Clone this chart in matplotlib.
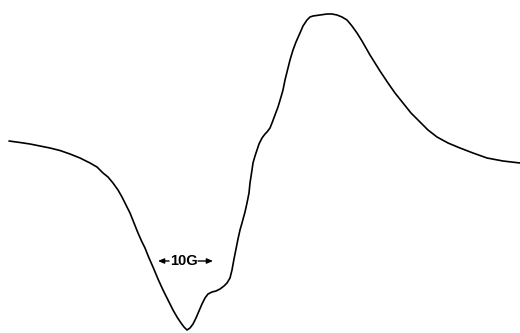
import matplotlib
matplotlib.use("Agg")
import matplotlib.pyplot as plt

# traced first-derivative EPR trace (field position, signal)
field = [9, 20, 30, 40, 50, 60, 70, 80, 90, 97, 103, 108, 113, 118, 122, 126,
         130, 134, 138, 142, 145, 149, 153, 158, 163, 168, 173, 177, 181, 184,
         187, 190, 193, 196, 199, 202, 205, 208, 212, 216, 220, 224, 227, 230,
         232, 234, 236, 238, 240, 242, 245, 247, 249, 250, 252, 253, 255, 257,
         259, 262, 265, 267, 270, 272, 275, 278, 281, 283, 285, 288, 290, 293,
         296, 300, 303, 307, 310, 313, 320, 327, 332, 337, 342, 347, 352, 357,
         362, 366, 370, 375, 380, 388, 395, 403, 411, 420, 428, 437, 448, 460,
         473, 487, 503, 520]
signal = [141, 142.5, 144, 146, 148, 150.5, 154, 158, 163, 167, 173, 177, 183,
          190, 197, 205, 213, 223, 233, 242, 248, 258, 267, 279, 290, 300, 310,
          317, 323, 327, 330, 328, 324, 318, 311, 304, 298, 294, 292, 291, 289,
          286, 283, 278, 270, 259, 249, 239, 230, 223, 212, 203, 193, 183, 170,
          163, 156, 150, 144, 138, 134, 132, 128, 123, 115, 107, 97, 90, 80, 68,
          60, 50, 42, 33, 26, 20, 17, 16, 15, 14, 14, 15, 17, 20, 26, 33, 41, 48,
          55, 63, 71, 83, 93, 103, 113, 122, 130, 137, 143, 148, 153, 158, 161,
          163]

# 10 G scale marker
scale_y = 261
scale_left, scale_right = 158, 213

fig = plt.figure(figsize=(5.2, 3.33), dpi=100)
ax = fig.add_axes([0, 0, 1, 1])
ax.plot(field, signal, color="black", lw=1.2, solid_capstyle="round",
        solid_joinstyle="round")
ax.text(183.5, scale_y, "10G", fontsize=10.5, fontweight="bold",
        ha="center", va="center", family=["Liberation Sans", "DejaVu Sans"])
for x_from, x_to in [(169, scale_left), (198, scale_right)]:
    ax.annotate("", xy=(x_to, scale_y), xytext=(x_from, scale_y),
                arrowprops=dict(arrowstyle="-|>,head_length=0.35,head_width=0.15",
                                color="black", lw=1.0, shrinkA=0, shrinkB=0))
ax.set_xlim(0, 520)
ax.set_ylim(333, 0)
ax.axis("off")
fig.savefig("out.png", dpi=100, facecolor="white")
